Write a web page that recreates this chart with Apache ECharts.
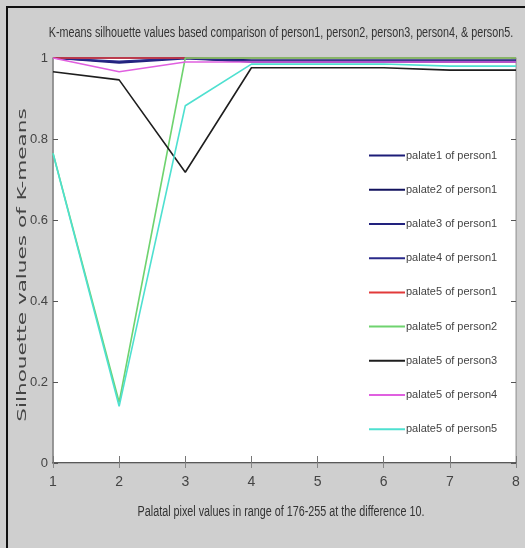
<!DOCTYPE html>
<html>
<head>
<meta charset="utf-8">
<script src="https://cdn.jsdelivr.net/npm/echarts@6/dist/echarts.min.js"></script>
<style>html,body{margin:0;padding:0;background:#cfcfcf;}#c{width:525px;height:548px;}</style>
</head>
<body>
<div id="c"></div>
<script>
const xValues = [1, 2, 3, 4, 5, 6, 7, 8];
const seriesNames = [
  'palate1 of person1', 'palate2 of person1', 'palate3 of person1', 'palate4 of person1',
  'palate5 of person1', 'palate5 of person2', 'palate5 of person3', 'palate5 of person4', 'palate5 of person5'
];
const palate1Person1 = [1.000, 1.000, 1.000, 0.995, 0.995, 0.995, 0.995, 0.995];
const palate2Person1 = [1.000, 0.990, 1.000, 0.990, 0.990, 0.990, 0.990, 0.990];
const palate3Person1 = [1.000, 0.988, 0.998, 0.991, 0.991, 0.991, 0.991, 0.991];
const palate4Person1 = [1.000, 0.992, 1.000, 0.992, 0.992, 0.992, 0.992, 0.992];
const palate5Person1 = [1.000, 1.000, 1.000, 1.000, 1.000, 1.000, 1.000, 1.000];
const palate5Person2 = [0.765, 0.150, 1.000, 1.000, 1.000, 1.000, 1.000, 1.000];
const palate5Person3 = [0.966, 0.946, 0.718, 0.976, 0.976, 0.976, 0.970, 0.970];
const palate5Person4 = [1.000, 0.966, 0.990, 0.990, 0.990, 0.990, 0.990, 0.990];
const palate5Person5 = [0.765, 0.140, 0.882, 0.985, 0.985, 0.985, 0.980, 0.980];
const yTicks = [0, 0.2, 0.4, 0.6, 0.8, 1];
const titleText = 'K-means silhouette values based comparison of person1, person2, person3, person4, & person5.';
const xName = 'Palatal pixel values in range of 176-255 at the difference 10.';
const yName = 'Silhouette values of K-means';

const allData = [palate1Person1, palate2Person1, palate3Person1, palate4Person1,
  palate5Person1, palate5Person2, palate5Person3, palate5Person4, palate5Person5];
const colors = ['#1c1c78', '#12125e', '#22227e', '#2a2a8a', '#e23a3a', '#6fd36f', '#1e1e1e', '#e060e0', '#4ee0d0'];

const sans = '"Liberation Sans", Arial, sans-serif';

const chart = echarts.init(document.getElementById('c'), null, {renderer: 'canvas'});
const option = {
  backgroundColor: '#cfcfcf',
  animation: false,
  graphic: [{
    type: 'rect', shape: {x: 7, y: 7, width: 560, height: 600},
    style: {fill: 'none', stroke: '#111', lineWidth: 2}, silent: true
  }, {
    type: 'text', x: 281, y: 33, scaleX: 0.77, silent: true,
    style: {text: titleText, align: 'center', verticalAlign: 'middle', font: '14px ' + sans, fill: '#333'}
  }, {
    type: 'text', x: 281, y: 512, scaleX: 0.77, silent: true,
    style: {text: xName, align: 'center', verticalAlign: 'middle', font: '14px ' + sans, fill: '#333'}
  }, {
    type: 'text', x: 23, y: 265, rotation: Math.PI / 2, scaleX: 1.66, silent: true,
    style: {text: yName, align: 'center', verticalAlign: 'middle', font: '13px "DejaVu Sans", sans-serif', fill: '#444'}
  }],
  grid: {left: 53, right: 9, top: 58, bottom: 85, show: true, backgroundColor: '#fff', borderColor: '#999', borderWidth: 1},
  legend: {
    orient: 'vertical', left: 363, top: 145,
    itemWidth: 36, itemHeight: 14, itemGap: 23,
    data: seriesNames,
    itemStyle: {opacity: 0},
    textStyle: {fontFamily: sans, fontSize: 11, color: '#444', padding: [0, 0, 0, -4]}
  },
  xAxis: [{
    type: 'value', min: 1, max: 8, interval: 1,
    axisLine: {show: true, lineStyle: {color: '#333', width: 1.5}},
    axisTick: {show: true, inside: true, length: 7, lineStyle: {color: '#777'}},
    axisLabel: {fontFamily: sans, fontSize: 14, color: '#444', margin: 12},
    splitLine: {show: false}
  }, {
    type: 'value', min: 1, max: 8, interval: 1, position: 'top',
    axisLine: {show: true, lineStyle: {color: '#aaa'}},
    axisTick: {show: true, inside: true, length: 5, lineStyle: {color: '#888'}},
    axisLabel: {show: false}, splitLine: {show: false}
  }],
  yAxis: [{
    type: 'value', min: 0, max: 1, interval: 0.2,
    axisLine: {show: true, lineStyle: {color: '#888', width: 1.5}},
    axisTick: {show: true, inside: true, length: 5, lineStyle: {color: '#555'}},
    axisLabel: {fontFamily: sans, fontSize: 13, color: '#444', margin: 5,
      formatter: v => { const t = yTicks.find(k => Math.abs(k - v) < 1e-9); return String(t !== undefined ? t : v); }},
    splitLine: {show: false}
  }, {
    type: 'value', min: 0, max: 1, interval: 0.2, position: 'right',
    axisLine: {show: true, lineStyle: {color: '#aaa'}},
    axisTick: {show: true, inside: true, length: 5, lineStyle: {color: '#555'}},
    axisLabel: {show: false}, splitLine: {show: false}
  }],
  series: seriesNames.map((n, i) => ({
    name: n, type: 'line', symbol: 'none',
    data: xValues.map((x, j) => [x, allData[i][j]]),
    lineStyle: {color: colors[i], width: 1.6},
    itemStyle: {color: colors[i]},
    clip: false
  }))
};
chart.setOption(option);
</script>
</body>
</html>
